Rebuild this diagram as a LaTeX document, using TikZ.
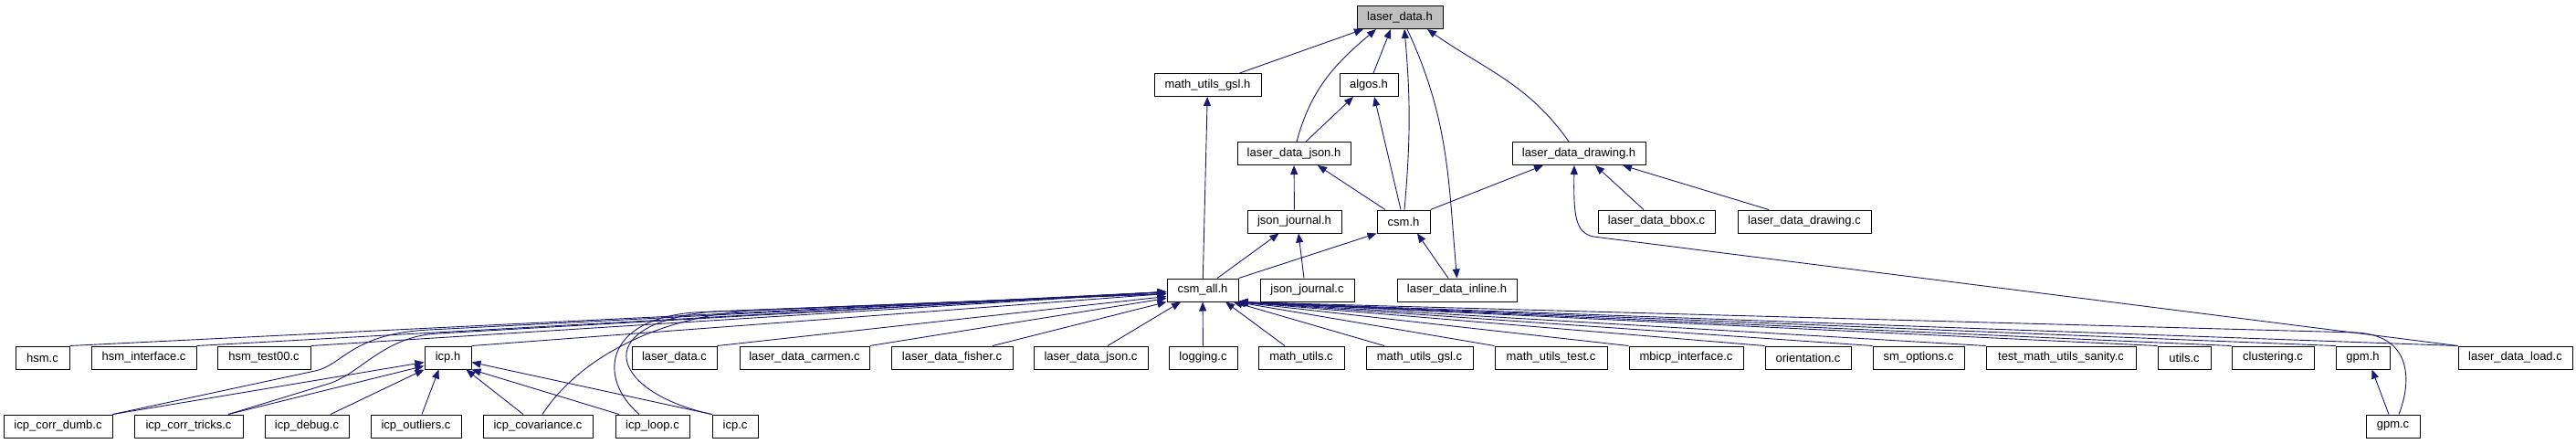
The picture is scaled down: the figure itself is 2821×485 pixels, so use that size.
\documentclass[tikz,border=0pt]{standalone}
\usepackage{fontspec}
\setmainfont{Liberation Sans}
\usetikzlibrary{arrows.meta}
\definecolor{edgeblue}{HTML}{191970}
\definecolor{rootgray}{HTML}{BFBFBF}
\tikzset{
  file/.style={draw=black, fill=white, line width=1pt, inner sep=0pt,
    minimum height=25pt, font=\fontsize{13pt}{15pt}\selectfont},
  root/.style={file, fill=rootgray},
  incl/.style={draw=edgeblue, line width=0.9pt, -{Triangle[length=10pt,width=8pt]}}
}
\begin{document}
\begin{tikzpicture}[x=1pt,y=1pt]
      \useasboundingbox (0,0) rectangle (2821,-485);
      \node[root, minimum width=94pt] (ldh) at (1533,-19) {laser\_data.h};
      \node[file, minimum width=117pt] (mugslh) at (1322.5,-93) {math\_utils\_gsl.h};
      \node[file, minimum width=64pt] (algosh) at (1499,-93) {algos.h};
      \node[file, minimum width=124pt] (ldjsonh) at (1417,-168) {laser\_data\_json.h};
      \node[file, minimum width=146pt] (lddrawh) at (1729,-168) {laser\_data\_drawing.h};
      \node[file, minimum width=103pt] (jjh) at (1417.5,-242.5) {json\_journal.h};
      \node[file, minimum width=58pt] (csmh) at (1537,-242.5) {csm.h};
      \node[file, minimum width=128pt] (ldbboxc) at (1814,-242.5) {laser\_data\_bbox.c};
      \node[file, minimum width=146pt] (lddrawc) at (1976,-242.5) {laser\_data\_drawing.c};
      \node[file, minimum width=78pt] (csmallh) at (1317,-317.5) {csm\_all.h};
      \node[file, minimum width=103pt] (jjc) at (1431.5,-317.5) {json\_journal.c};
      \node[file, minimum width=131pt] (ldinlh) at (1595.5,-317.5) {laser\_data\_inline.h};
      \node[file, minimum width=59pt] (hsmc) at (46.5,-391.5) {hsm.c};
      \node[file, minimum width=115pt] (hsmifc) at (157.5,-391.5) {hsm\_interface.c};
      \node[file, minimum width=102pt] (hsmtc) at (289,-391.5) {hsm\_test00.c};
      \node[file, minimum width=51pt] (icph) at (490.5,-391.5) {icp.h};
      \node[file, minimum width=93pt] (ldc) at (738.5,-391.5) {laser\_data.c};
      \node[file, minimum width=142pt] (ldcarmenc) at (881,-391.5) {laser\_data\_carmen.c};
      \node[file, minimum width=133pt] (ldfisherc) at (1042.5,-391.5) {laser\_data\_fisher.c};
      \node[file, minimum width=125pt] (ldjsonc) at (1194.5,-391.5) {laser\_data\_json.c};
      \node[file, minimum width=75pt] (loggingc) at (1317.5,-391.5) {logging.c};
      \node[file, minimum width=94pt] (muc) at (1425,-391.5) {math\_utils.c};
      \node[file, minimum width=117pt] (mugslc) at (1554.5,-391.5) {math\_utils\_gsl.c};
      \node[file, minimum width=123pt] (mutestc) at (1698.5,-391.5) {math\_utils\_test.c};
      \node[file, minimum width=125pt] (mbicpc) at (1846.5,-391.5) {mbicp\_interface.c};
      \node[file, minimum width=94pt] (orientc) at (1980,-391.5) {orientation.c};
      \node[file, minimum width=100pt] (smoptc) at (2101,-391.5) {sm\_options.c};
      \node[file, minimum width=164pt] (tmusc) at (2257,-391.5) {test\_math\_utils\_sanity.c};
      \node[file, minimum width=58pt] (utilsc) at (2392,-391.5) {utils.c};
      \node[file, minimum width=90pt] (clustc) at (2489,-391.5) {clustering.c};
      \node[file, minimum width=59pt] (gpmh) at (2587.5,-391.5) {gpm.h};
      \node[file, minimum width=125pt] (ldloadc) at (2754.5,-391.5) {laser\_data\_load.c};
      \node[file, minimum width=119pt] (icpcdc) at (63.5,-466.5) {icp\_corr\_dumb.c};
      \node[file, minimum width=119pt] (icpctc) at (206.5,-466.5) {icp\_corr\_tricks.c};
      \node[file, minimum width=92pt] (icpdbgc) at (336,-466.5) {icp\_debug.c};
      \node[file, minimum width=99pt] (icpoutc) at (455.5,-466.5) {icp\_outliers.c};
      \node[file, minimum width=120pt] (icpcovc) at (589,-466.5) {icp\_covariance.c};
      \node[file, minimum width=81pt] (icploopc) at (714.5,-466.5) {icp\_loop.c};
      \node[file, minimum width=50pt] (icpc) at (805,-466.5) {icp.c};
      \node[file, minimum width=59pt] (gpmc) at (2620.5,-466.5) {gpm.c};
      \begin{scope}[incl]
        \draw ([xshift=35pt]mugslh.north) to ([xshift=-40pt]ldh.south);
        \draw ([xshift=3pt]ldjsonh.north) to[out=75,in=-140] ([xshift=-26pt]ldh.south);
        \draw ([xshift=5pt]algosh.north) to ([xshift=-10pt]ldh.south);
        \draw ([xshift=1pt]csmh.north) to[out=85,in=-85] ([xshift=5pt]ldh.south);
        \draw ([xshift=8pt]ldh.south) to[out=-65,in=95] (ldinlh.north);
        \draw ([xshift=-11pt]lddrawh.north) to[out=125,in=-35] ([xshift=30pt]ldh.south);
        \draw ([xshift=13pt]ldjsonh.north) to ([xshift=-17pt]algosh.south);
        \draw ([xshift=-3pt]csmh.north) to ([xshift=6pt]algosh.south);
        \draw ([xshift=-20pt]csmh.north) to ([xshift=26pt]ldjsonh.south);
        \draw (jjh) to (ldjsonh);
        \draw (csmh.north east) to ([xshift=-39pt]lddrawh.south);
        \draw ([xshift=-14pt]ldbboxc.north) to ([xshift=18pt]lddrawh.south);
        \draw ([xshift=-39pt]lddrawc.north) to ([xshift=48pt]lddrawh.south);
        \draw (ldloadc.north west) -- (1745,-259) .. controls (1725,-255) and (1723,-235) .. ([xshift=-5pt]lddrawh.south);
        \draw ([xshift=16pt]csmallh.north) to ([xshift=-17pt]jjh.south);
        \draw (csmallh.north east) to (csmh.south west);
        \draw (csmallh) to (mugslh);
        \draw ([xshift=-3.5pt]jjc.north) to ([xshift=4.5pt]jjh.south);
        \draw ([xshift=-9.5pt]ldinlh.north) to ([xshift=15pt]csmh.south);
        \draw (icpcdc.north east) to ([yshift=-5pt]icph.west);
        \draw ([xshift=43.5pt]icpctc.north) to ([yshift=-9pt]icph.west);
        \draw ([xshift=26pt]icpdbgc.north) to (icph.south west);
        \draw ([xshift=6.5pt]icpoutc.north) to ([xshift=-10pt]icph.south);
        \draw ([xshift=-16pt]icpcovc.north) to ([xshift=20pt]icph.south);
        \draw ([xshift=-36.5pt]icploopc.north) to (icph.south east);
        \draw (icpc.north west) to ([yshift=-5pt]icph.east);
        \draw (hsmc.north east) to ([yshift=-2pt]csmallh.west);
        \draw (hsmifc.north east) to ([yshift=-2pt]csmallh.west);
        \draw (hsmtc.north east) to ([yshift=-2pt]csmallh.west);
        \draw (icpcdc.north east) -- (345,-406) .. controls (375,-400) and (385,-365) .. (470,-361) -- ([yshift=-2pt]csmallh.west);
        \draw ([xshift=43.5pt]icpctc.north) -- (360,-420) .. controls (395,-409) and (420,-368) .. (480,-365) -- ([yshift=-2pt]csmallh.west);
        \draw (icph.north east) to ([yshift=-4pt]csmallh.west);
        \draw ([xshift=5pt]icpcovc.north) .. controls (625,-405) and (700,-350) .. (820,-340) -- ([yshift=-4pt]csmallh.west);
        \draw ([xshift=-14.5pt]icploopc.north) .. controls (655,-415) and (660,-350) .. (760,-342) -- ([yshift=-4pt]csmallh.west);
        \draw (icpc.north west) .. controls (670,-430) and (640,-355) .. (780,-341) -- ([yshift=-4pt]csmallh.west);
        \draw (ldc.north east) to ([yshift=-7pt]csmallh.west);
        \draw (ldcarmenc.north east) to ([yshift=-9pt]csmallh.west);
        \draw ([xshift=44.5pt]ldfisherc.north) to (csmallh.south west);
        \draw ([xshift=18.5pt]ldjsonc.north) to ([xshift=-24pt]csmallh.south);
        \draw (loggingc) to (csmallh);
        \draw ([xshift=-18pt]muc.north) to ([xshift=25pt]csmallh.south);
        \draw ([xshift=-38.5pt]mugslc.north) to ([xshift=-6pt]csmallh.south east);
        \draw (mutestc.north west) to ([xshift=-3pt]csmallh.south east);
        \draw (mbicpc.north west) to ([xshift=-2pt]csmallh.south east);
        \draw (orientc.north west) to ([xshift=-1pt]csmallh.south east);
        \draw (smoptc.north west) to ([xshift=-1pt]csmallh.south east);
        \draw (tmusc.north west) to (csmallh.south east);
        \draw (utilsc.north west) to (csmallh.south east);
        \draw (clustc.north west) to (csmallh.south east);
        \draw (gpmh.north west) to (csmallh.south east);
        \draw (ldloadc.north west) to (csmallh.south east);
        \draw ([xshift=6.5pt]gpmc.north) .. controls (2642,-415) and (2640,-367) .. (2580,-364) -- (csmallh.south east);
        \draw ([xshift=-4.5pt]gpmc.north) to ([xshift=10pt]gpmh.south);
      \end{scope}
    \end{tikzpicture}
\end{document}
